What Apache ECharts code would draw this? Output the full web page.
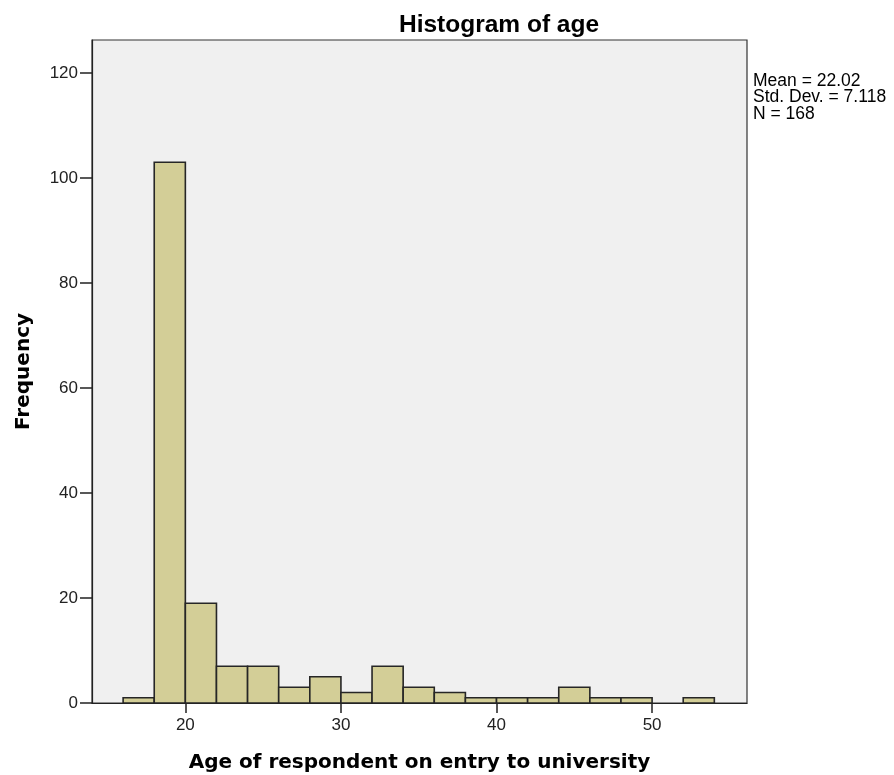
<!DOCTYPE html>
<html><head><meta charset="utf-8">
<script src="https://cdn.jsdelivr.net/npm/echarts@6/dist/echarts.min.js"></script>
<style>html,body{margin:0;padding:0;background:#fff}#c{width:894px;height:775px}</style>
</head><body><div id="c"></div>
<script>
const binStarts = [16,18,20,22,24,26,28,30,32,34,36,38,40,42,44,46,48,50,52];
const counts    = [1,103,19,7,7,3,5,2,7,3,2,1,1,1,3,1,1,0,1];
const binWidth = 2;
const xTicks = [20,30,40,50];
const yTicks = [0,20,40,60,80,100,120];
const statsLines = ['Mean = 22.02','Std. Dev. = 7.118','N = 168'];

const FONT = '"Liberation Sans", Arial, sans-serif';
const BFONT = '"DejaVu Sans", Verdana, sans-serif';
const chart = echarts.init(document.getElementById('c'));
chart.setOption({
  animation:false,
  backgroundColor:'#fff',
  title:{text:'Histogram of age', left:494, top:8, textAlign:'center',
    textStyle:{fontFamily:FONT,fontSize:24.5,fontWeight:'bold',color:'#000'}},
  grid:{left:92,right:147,top:40,bottom:72,outerBoundsMode:'none',containLabel:false,show:true,backgroundColor:'#f0f0f0',borderColor:'#333',borderWidth:1.2},
  graphic:[{type:'text',left:753,top:72,style:{text:statsLines.join('\n'),fontFamily:FONT,fontSize:17.5,lineHeight:16.5,fill:'#000'}}],
  xAxis:{type:'value',min:14,max:56.1,
    name:'Age of respondent on entry to university',nameLocation:'middle',nameGap:50,
    nameTextStyle:{fontFamily:BFONT,fontSize:20,fontWeight:'bold',color:'#000'},
    axisLine:{show:true,lineStyle:{color:'#222',width:1.2}},
    axisTick:{show:true,length:10,customValues:xTicks,lineStyle:{color:'#222',width:1.5}},
    axisLabel:{customValues:xTicks,margin:14,fontFamily:FONT,fontSize:17,color:'#222'},
    splitLine:{show:false}},
  yAxis:{type:'value',min:0,max:126.3,
    name:'Frequency',nameLocation:'middle',nameGap:58,nameRotate:90,
    nameTextStyle:{fontFamily:BFONT,fontSize:20,fontWeight:'bold',color:'#000'},
    axisLine:{show:true,lineStyle:{color:'#222',width:1.2}},
    axisTick:{show:true,length:12,customValues:yTicks,lineStyle:{color:'#222',width:1.5}},
    axisLabel:{customValues:yTicks,margin:14,fontFamily:FONT,fontSize:17,color:'#222'},
    splitLine:{show:false}},
  series:[{type:'custom',
    data:binStarts.map((s,i)=>[s,s+binWidth,counts[i]]),
    renderItem:function(params,api){
      if(api.value(2)<=0) return;
      const p0=api.coord([api.value(0),0]);
      const p1=api.coord([api.value(1),api.value(2)]);
      return {type:'rect',shape:{x:p0[0],y:p1[1],width:p1[0]-p0[0],height:p0[1]-p1[1]},
        style:{fill:'#d3ce97',stroke:'#262626',lineWidth:1.6}};
    }}]
});
</script></body></html>
